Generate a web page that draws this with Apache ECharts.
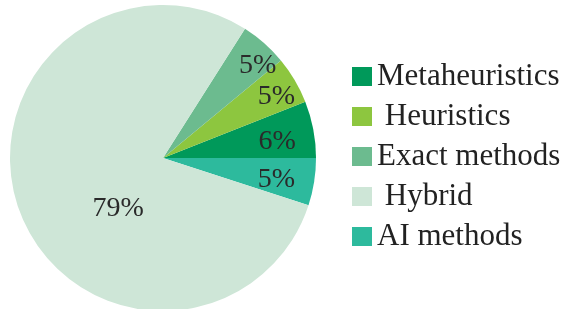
<!DOCTYPE html>
<html>
<head>
<meta charset="utf-8">
<script src="https://cdn.jsdelivr.net/npm/echarts@6/dist/echarts.min.js"></script>
<style>
  html, body { margin: 0; padding: 0; background: #fff; }
  #chart { width: 566px; height: 309px; }
</style>
</head>
<body>
<div id="chart"></div>
<script>
// slice order follows the pie counter-clockwise from the AI slice
var categories = ['AI methods', 'Metaheuristics', 'Heuristics', 'Exact methods', 'Hybrid'];
var shares = [5, 6, 5, 5, 79];
var legendOrder = ['Metaheuristics', 'Heuristics', 'Exact methods', 'Hybrid', 'AI methods'];

var colors = {
    'AI methods': '#2dba9d',
    'Metaheuristics': '#00995a',
    'Heuristics': '#8dc63f',
    'Exact methods': '#6cbb8f',
    'Hybrid': '#cee6d7'
};
// nudge labels from the slice middle to where they sit in the figure
var labelShift = [[35, 9], [36, -1], [45, -21], [42, -33], [30, 24]];
var serif = '"Liberation Serif", "DejaVu Serif", serif';

var chart = echarts.init(document.getElementById('chart'));

var data = categories.map(function (name, i) {
    return { name: name, value: shares[i], itemStyle: { color: colors[name] } };
});

var option = {
    animation: false,
    legend: {
        orient: 'vertical',
        left: 352,
        top: 61,
        padding: 0,
        itemWidth: 20,
        itemHeight: 19,
        itemGap: 9,
        selectedMode: false,
        icon: 'rect',
        data: legendOrder,
        formatter: function (name) {
            // the source has a small leading space on two entries
            return (name === 'Heuristics' || name === 'Hybrid') ? ' ' + name : name;
        },
        textStyle: {
            fontFamily: serif,
            fontSize: 31,
            lineHeight: 31,
            color: '#222'
        }
    },
    series: [{
        type: 'pie',
        center: [163, 158],
        radius: [0, 153],
        startAngle: -18,
        clockwise: false,
        silent: true,
        itemStyle: { borderWidth: 0 },
        label: {
            show: true,
            position: 'inside',
            formatter: '{c}%',
            fontFamily: serif,
            fontSize: 28,
            color: '#2a2a2a'
        },
        labelLine: { show: false },
        labelLayout: function (params) {
            var s = labelShift[params.dataIndex];
            return { dx: s[0], dy: s[1] };
        },
        data: data
    }]
};

chart.setOption(option);
</script>
</body>
</html>
